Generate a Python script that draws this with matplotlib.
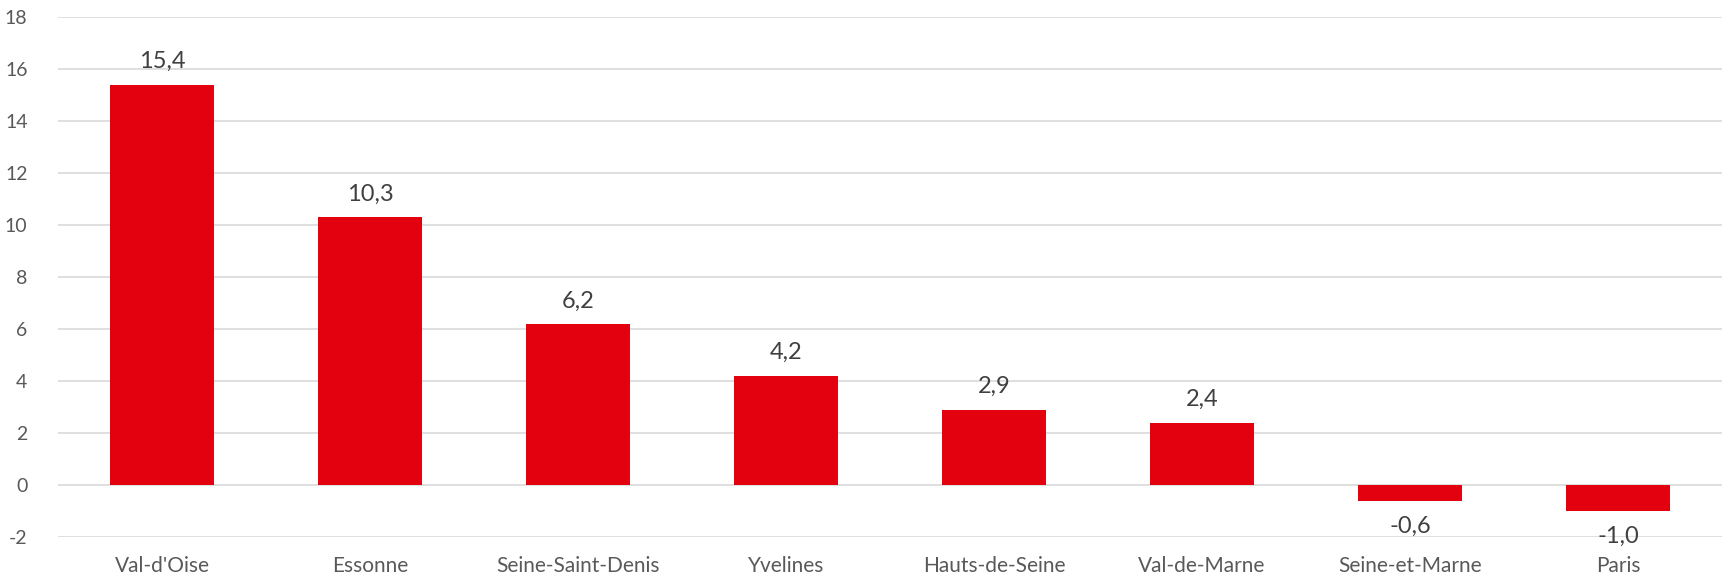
import matplotlib.pyplot as plt
import numpy as np

plt.rcParams['font.family'] = ['Lato', 'DejaVu Sans']

# données
departements = ['Val-d\'Oise', 'Essonne', 'Seine-Saint-Denis', 'Yvelines',
                'Hauts-de-Seine', 'Val-de-Marne', 'Seine-et-Marne', 'Paris']
valeurs = [15.4, 10.3, 6.2, 4.2, 2.9, 2.4, -0.6, -1.0]
yticks = [-2, 0, 2, 4, 6, 8, 10, 12, 14, 16, 18]

ROUGE = '#E3000F'
GRIS_GRILLE = '#D9D9D9'

fig = plt.figure(figsize=(17.22, 5.79), dpi=100)
ax = fig.add_axes([0.0337, 0.0725, 0.9663, 0.898])

x = np.arange(len(departements))
bars = ax.bar(x, valeurs, width=0.5, color=ROUGE, zorder=3)

ax.set_xlim(-0.5, len(departements) - 0.5)
ax.set_ylim(-2, 18)
ax.set_yticks(yticks)
ax.set_yticklabels([str(t) for t in yticks], fontsize=14, color='#595959')
ax.set_xticks(x)
ax.set_xticklabels(departements, fontsize=15, color='#595959')
ax.tick_params(axis='both', length=0)
ax.tick_params(axis='y', pad=22)
ax.tick_params(axis='x', pad=14)

ax.grid(axis='y', color=GRIS_GRILLE, linewidth=1.2, zorder=0)
for s in ax.spines.values():
    s.set_visible(False)

# étiquettes de valeurs
for b, v in zip(bars, valeurs):
    txt = f'{v:.1f}'.replace('.', ',')
    if v >= 0:
        ax.annotate(txt, (b.get_x() + b.get_width() / 2, v), xytext=(0, 9),
                    textcoords='offset points', ha='center', va='bottom',
                    fontsize=17, color='#404040')
    else:
        ax.annotate(txt, (b.get_x() + b.get_width() / 2, v), xytext=(0, -11),
                    textcoords='offset points', ha='center', va='top',
                    fontsize=17, color='#404040')

fig.savefig('out.png', dpi=100)
